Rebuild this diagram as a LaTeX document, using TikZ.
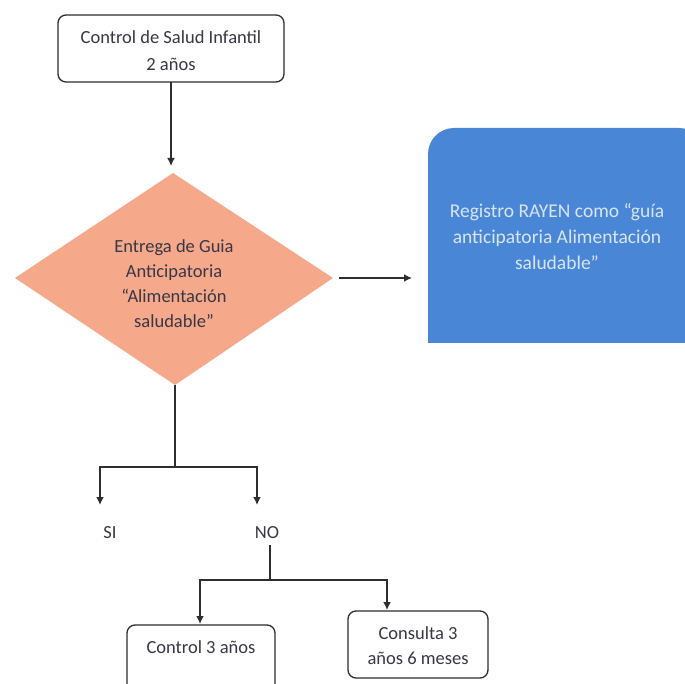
\documentclass[tikz,border=0pt]{standalone}
\usepackage{fontspec}
\setmainfont{Carlito}
\usetikzlibrary{arrows.meta}
\definecolor{salmon}{RGB}{246,168,138}
\definecolor{bluebox}{RGB}{74,134,214}
\definecolor{lineclr}{RGB}{45,45,50}
\definecolor{txt}{RGB}{55,55,70}
\definecolor{btxt}{RGB}{215,228,246}
\tikzset{
  roundbox/.style={draw=lineclr, line width=1.3pt, rounded corners=8pt, fill=white},
  conn/.style={draw=lineclr, line width=1.8pt},
  arr/.style={conn, -{Latex[length=8pt,width=8pt]}},
  lbl/.style={font=\fontsize{18.5}{27}\selectfont, text=txt, align=center, inner sep=0pt}
}
\begin{document}
\begin{tikzpicture}[x=1pt,y=-1pt]
\useasboundingbox (0,0) rectangle (685,684);
\clip (0,0) rectangle (685,684);
% top box
\draw[roundbox] (58,15) rectangle (284,82);
\node[lbl] (top) at (171,51) {Control de Salud Infantil\\2 años};
\coordinate (topb) at (171,82);
% diamond
\fill[salmon] (173,173) -- (333,278) -- (175,385) -- (15,278) -- cycle;
\node[lbl, font=\fontsize{18.5}{25}\selectfont] (dia) at (174,284) {Entrega de Guia\\Anticipatoria\\“Alimentación\\saludable”};
\coordinate (diat) at (171,166);
\coordinate (diar) at (339,278);
\coordinate (diab) at (175,385);
\draw[arr] (topb) -- (diat);
% blue box
\fill[bluebox, rounded corners=26pt] (428,343) -- (428,128) -- (705,128) -- (705,343) [sharp corners] -- cycle;
\fill[bluebox] (428,300) rectangle (705,343);
\node[lbl, text=btxt, font=\fontsize{19.5}{26}\selectfont] (reg) at (557,237) {Registro RAYEN como “guía\\anticipatoria Alimentación\\saludable”};
\coordinate (regl) at (412,278);
\draw[arr] (diar) -- (regl);
% SI / NO branch
\coordinate (j1) at (175,467);
\coordinate (j1l) at (100,467);
\coordinate (j1r) at (257,467);
\node[lbl] (si) at (110,533) {SI};
\node[lbl] (no) at (267,533) {NO};
\draw[conn] (diab) -- (j1);
\draw[arr] (j1) -- (j1l) -- (100,505);
\draw[arr] (j1) -- (j1r) -- (257,505);
% NO branch
\coordinate (j2) at (270,580);
\draw[conn] (270,545) -- (j2);
% bottom boxes
\draw[roundbox] (127,625) rectangle (275,700);
\node[lbl] (c3) at (201,647) {Control 3 años};
\draw[roundbox] (348,611) rectangle (488,678);
\node[lbl, font=\fontsize{18.5}{25}\selectfont] (c36) at (418,646) {Consulta 3\\años 6 meses};
\draw[arr] (j2) -- (200,580) -- (200,624);
\draw[arr] (j2) -- (387,580) -- (387,610);
\end{tikzpicture}
\end{document}
